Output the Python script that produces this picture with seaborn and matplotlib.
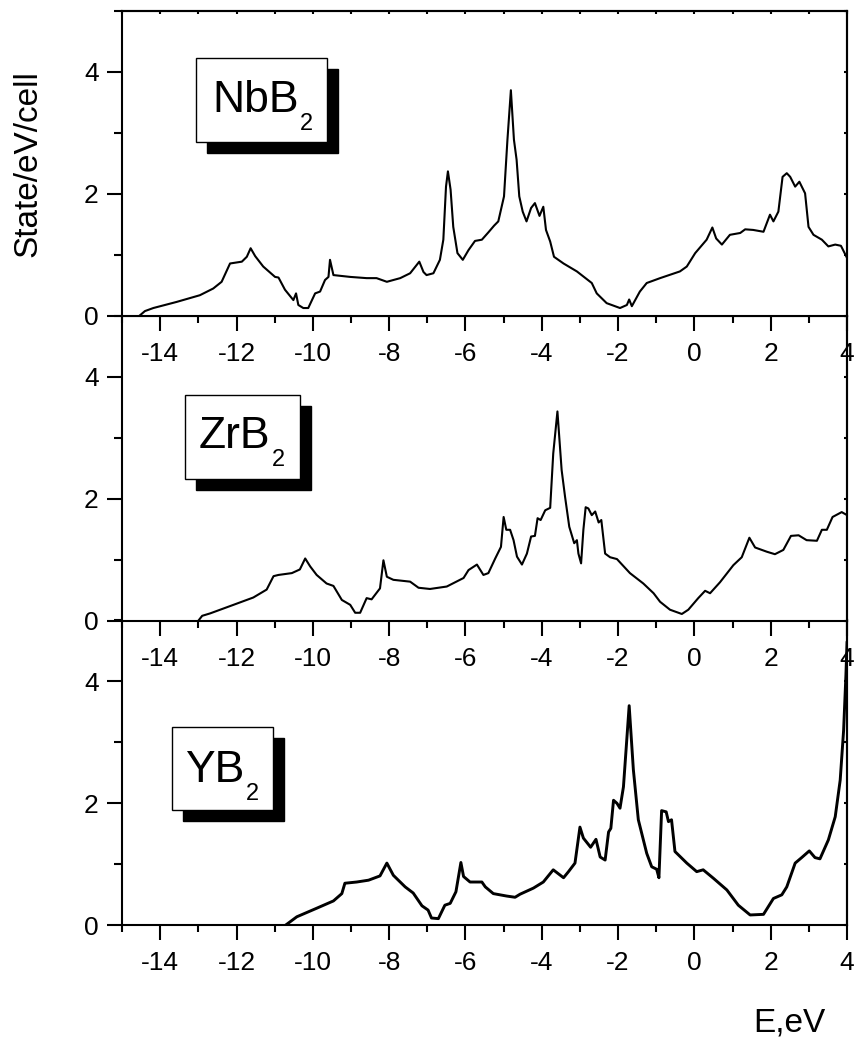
import numpy as np
import pandas as pd
import matplotlib
matplotlib.use("Agg")
import matplotlib.pyplot as plt
import matplotlib.transforms as mtransforms
from matplotlib.patches import Rectangle
from matplotlib.ticker import MultipleLocator
import seaborn as sns

# ---------------- data ----------------
nbb2_e = [-14.55, -14.4, -14.18, -13.57, -12.96, -12.61, -12.39, -12.17, -11.86, -11.73,
          -11.63, -11.51, -11.30, -10.99, -10.90, -10.73, -10.51, -10.44, -10.38, -10.25,
          -10.12, -9.94, -9.81, -9.68, -9.59, -9.55, -9.46, -9.02, -8.59, -8.33,
          -8.06, -7.71, -7.45, -7.21, -7.10, -7.02, -6.84, -6.67, -6.58, -6.51,
          -6.46, -6.39, -6.32, -6.21, -6.07, -5.92, -5.75, -5.57, -5.40, -5.25,
          -5.14, -4.99, -4.90, -4.81, -4.73, -4.66, -4.59, -4.50, -4.40, -4.28,
          -4.18, -4.06, -3.96, -3.89, -3.78, -3.68, -3.43, -3.08, -2.69, -2.56,
          -2.30, -1.95, -1.77, -1.71, -1.64, -1.43, -1.25, -0.90, -0.38, -0.20,
          0.02, 0.32, 0.47, 0.57, 0.72, 0.93, 1.20, 1.33, 1.54, 1.81,
          1.98, 2.07, 2.20, 2.31, 2.42, 2.51, 2.64, 2.75, 2.90, 2.99,
          3.12, 3.34, 3.51, 3.69, 3.84, 4.0]
nbb2_dos = [0.0, 0.08, 0.13, 0.23, 0.34, 0.45, 0.56, 0.86, 0.89, 0.97,
            1.11, 0.98, 0.81, 0.64, 0.63, 0.43, 0.26, 0.37, 0.18, 0.13,
            0.13, 0.37, 0.40, 0.59, 0.64, 0.92, 0.67, 0.64, 0.62, 0.62,
            0.56, 0.62, 0.70, 0.89, 0.72, 0.67, 0.70, 0.92, 1.25, 2.12,
            2.37, 2.07, 1.46, 1.03, 0.92, 1.08, 1.23, 1.25, 1.37, 1.48,
            1.55, 1.96, 2.89, 3.70, 2.89, 2.56, 1.96, 1.71, 1.55, 1.77,
            1.85, 1.64, 1.79, 1.41, 1.22, 0.97, 0.86, 0.73, 0.54, 0.37,
            0.21, 0.13, 0.18, 0.27, 0.16, 0.40, 0.54, 0.62, 0.73, 0.81,
            1.03, 1.25, 1.45, 1.27, 1.17, 1.33, 1.36, 1.42, 1.41, 1.38,
            1.66, 1.55, 1.71, 2.28, 2.34, 2.28, 2.12, 2.20, 2.01, 1.46,
            1.33, 1.25, 1.14, 1.17, 1.15, 0.95]

zrb2_e = [-13.0, -12.9, -12.69, -12.08, -11.56, -11.21, -11.03, -10.90, -10.55, -10.34,
          -10.20, -10.07, -9.90, -9.64, -9.46, -9.24, -9.02, -8.89, -8.76, -8.59,
          -8.46, -8.24, -8.15, -8.06, -7.89, -7.45, -7.23, -6.93, -6.49, -6.05,
          -5.92, -5.70, -5.53, -5.40, -5.22, -5.07, -5.00, -4.93, -4.83, -4.74,
          -4.65, -4.52, -4.39, -4.28, -4.18, -4.11, -4.03, -3.91, -3.78, -3.70,
          -3.59, -3.48, -3.39, -3.28, -3.15, -3.08, -3.04, -2.97, -2.91, -2.85,
          -2.78, -2.69, -2.60, -2.51, -2.44, -2.34, -2.21, -2.03, -1.69, -1.34,
          -1.07, -0.90, -0.64, -0.33, -0.16, 0.10, 0.28, 0.41, 0.67, 1.02,
          1.24, 1.44, 1.59, 1.90, 2.11, 2.33, 2.53, 2.73, 2.94, 3.21,
          3.34, 3.47, 3.62, 3.86, 4.0]
zrb2_dos = [0.0, 0.08, 0.12, 0.26, 0.38, 0.51, 0.73, 0.75, 0.78, 0.84,
            1.02, 0.89, 0.75, 0.61, 0.57, 0.34, 0.26, 0.13, 0.13, 0.37,
            0.35, 0.53, 0.99, 0.72, 0.67, 0.64, 0.54, 0.52, 0.56, 0.70,
            0.83, 0.92, 0.75, 0.78, 1.02, 1.21, 1.70, 1.49, 1.49, 1.32,
            1.05, 0.92, 1.10, 1.38, 1.39, 1.68, 1.65, 1.81, 1.85, 2.74,
            3.43, 2.47, 2.03, 1.54, 1.27, 1.32, 1.10, 0.94, 1.49, 1.86,
            1.84, 1.73, 1.79, 1.61, 1.65, 1.10, 1.04, 1.01, 0.78, 0.61,
            0.45, 0.31, 0.18, 0.11, 0.18, 0.37, 0.49, 0.45, 0.63, 0.91,
            1.04, 1.36, 1.20, 1.13, 1.09, 1.16, 1.39, 1.40, 1.32, 1.31,
            1.49, 1.49, 1.70, 1.78, 1.73]

yb2_e = [-10.72, -10.42, -9.90, -9.46, -9.24, -9.16, -8.85, -8.54, -8.24, -8.06,
         -7.89, -7.58, -7.37, -7.14, -6.98, -6.89, -6.71, -6.54, -6.40, -6.25,
         -6.12, -6.05, -5.88, -5.57, -5.48, -5.27, -4.92, -4.70, -4.57, -4.22,
         -3.96, -3.70, -3.43, -3.30, -3.13, -3.00, -2.91, -2.72, -2.58, -2.47,
         -2.34, -2.25, -2.19, -2.12, -2.03, -1.95, -1.86, -1.71, -1.60, -1.47,
         -1.25, -1.12, -0.99, -0.93, -0.86, -0.74, -0.68, -0.60, -0.51, -0.20,
         0.06, 0.23, 0.50, 0.85, 1.15, 1.46, 1.81, 2.07, 2.29, 2.42,
         2.64, 2.81, 3.01, 3.16, 3.29, 3.51, 3.69, 3.82, 3.91, 3.97, 4.0]
yb2_dos = [0.0, 0.14, 0.28, 0.40, 0.52, 0.69, 0.71, 0.74, 0.81, 1.02,
           0.82, 0.63, 0.53, 0.32, 0.25, 0.12, 0.11, 0.33, 0.36, 0.55,
           1.03, 0.80, 0.71, 0.71, 0.63, 0.52, 0.48, 0.46, 0.51, 0.61,
           0.71, 0.91, 0.78, 0.88, 1.02, 1.61, 1.43, 1.28, 1.41, 1.12,
           1.07, 1.53, 1.59, 2.05, 2.00, 1.92, 2.27, 3.60, 2.55, 1.73,
           1.18, 0.96, 0.92, 0.78, 1.88, 1.86, 1.70, 1.73, 1.21, 1.02,
           0.88, 0.91, 0.77, 0.58, 0.33, 0.17, 0.18, 0.44, 0.50, 0.63,
           1.02, 1.11, 1.22, 1.11, 1.09, 1.40, 1.78, 2.38, 3.20, 4.10, 4.65]

compounds = ["NbB", "ZrB", "YB"]
subscripts = ["2", "2", "2"]
x_ticks = [-14, -12, -10, -8, -6, -4, -2, 0, 2, 4]
y_ticks = [0, 2, 4]

# ---------------- style ----------------
sns.set_theme(style="ticks")
plt.rcParams["font.family"] = ["Liberation Sans", "DejaVu Sans"]
plt.rcParams["axes.linewidth"] = 1.5
for key in ["text.color", "axes.labelcolor", "xtick.color", "ytick.color", "axes.edgecolor"]:
    plt.rcParams[key] = "black"

fig = plt.figure(figsize=(8.57, 10.39), dpi=100)

left, width, height = 0.1424, 0.846, 0.2936
bottoms = [0.6959, 0.4026, 0.1094]
series = [(nbb2_e, nbb2_dos), (zrb2_e, zrb2_dos), (yb2_e, yb2_dos)]
lws = [1.5, 1.5, 2.1]

# label box geometry (axes fraction): box x0, x1, y0, y1, text left, baseline
boxes = [(0.102, 0.283, 0.570, 0.846, 0.124, 0.669),
         (0.087, 0.2455, 0.465, 0.740, 0.106, 0.566),
         (0.069, 0.208, 0.378, 0.650, 0.087, 0.470)]

axes = []
for i in range(3):
    ax = fig.add_axes([left, bottoms[i], width, height])
    ax.set_zorder(10 - i)
    ax.set_facecolor("white")
    e, d = series[i]
    df = pd.DataFrame({"E": e, "DOS": d})
    sns.lineplot(data=df, x="E", y="DOS", ax=ax, color="black", linewidth=lws[i],
                 sort=False, estimator=None)
    ax.set_xlim(-15, 4)
    ax.set_ylim(0, 5)
    ax.set_xticks(x_ticks)
    ax.set_xticklabels([str(t) for t in x_ticks])
    ax.set_yticks(y_ticks)
    ax.set_yticklabels([str(t) for t in y_ticks])
    ax.xaxis.set_minor_locator(MultipleLocator(1))
    ax.yaxis.set_minor_locator(MultipleLocator(1))
    ax.tick_params(axis="x", which="major", direction="out", length=10.8, width=1.5,
                   labelsize=19, pad=8, colors="black")
    ax.tick_params(axis="x", which="minor", direction="out", length=5, width=1.5,
                   colors="black")
    ax.tick_params(axis="y", which="major", direction="out", length=10.8, width=1.5,
                   labelsize=19, pad=6, colors="black")
    ax.tick_params(axis="y", which="minor", direction="out", length=5.5, width=1.5,
                   colors="black")
    for s in ax.spines.values():
        s.set_linewidth(1.5)
        s.set_color("black")
    ax.set_xlabel("")
    ax.set_ylabel("")

    # right inward ticks
    sec_r = ax.secondary_yaxis("right")
    sec_r.yaxis.set_major_locator(MultipleLocator(1))
    sec_r.tick_params(direction="in", length=2.5, width=1.5, labelright=False,
                      colors="black")
    sec_r.spines["right"].set_linewidth(1.5)
    if i == 0:
        sec_t = ax.secondary_xaxis("top")
        sec_t.xaxis.set_major_locator(MultipleLocator(1))
        sec_t.tick_params(direction="in", length=2.5, width=1.5, labeltop=False,
                          colors="black")
        sec_t.spines["top"].set_linewidth(1.5)

    # label box with drop shadow
    x0, x1, y0, y1, tx, ty = boxes[i]
    shadow_tr = mtransforms.offset_copy(ax.transAxes, fig=fig, x=8, y=-8, units="points")
    ax.add_patch(Rectangle((x0, y0), x1 - x0, y1 - y0, transform=shadow_tr,
                           facecolor="black", edgecolor="black", lw=1, zorder=5))
    ax.add_patch(Rectangle((x0, y0), x1 - x0, y1 - y0, transform=ax.transAxes,
                           facecolor="white", edgecolor="black", lw=1, zorder=6))
    t = ax.text(tx, ty, compounds[i], transform=ax.transAxes, fontsize=32,
                ha="left", va="baseline", zorder=7, color="black")
    ax.annotate(subscripts[i], xy=(1, 0), xycoords=t, xytext=(1, -6.5),
                textcoords="offset points", fontsize=17, ha="left", va="baseline",
                zorder=7, color="black")
    axes.append(ax)

axes[0].set_ylabel("State/eV/cell", fontsize=24, color="black")
axes[0].yaxis.set_label_coords(-0.108, 0.5)
axes[2].set_xlabel("E,eV", fontsize=24, color="black")
axes[2].xaxis.set_label_coords(0.921, -0.268)

fig.savefig("out.png", dpi=100)
